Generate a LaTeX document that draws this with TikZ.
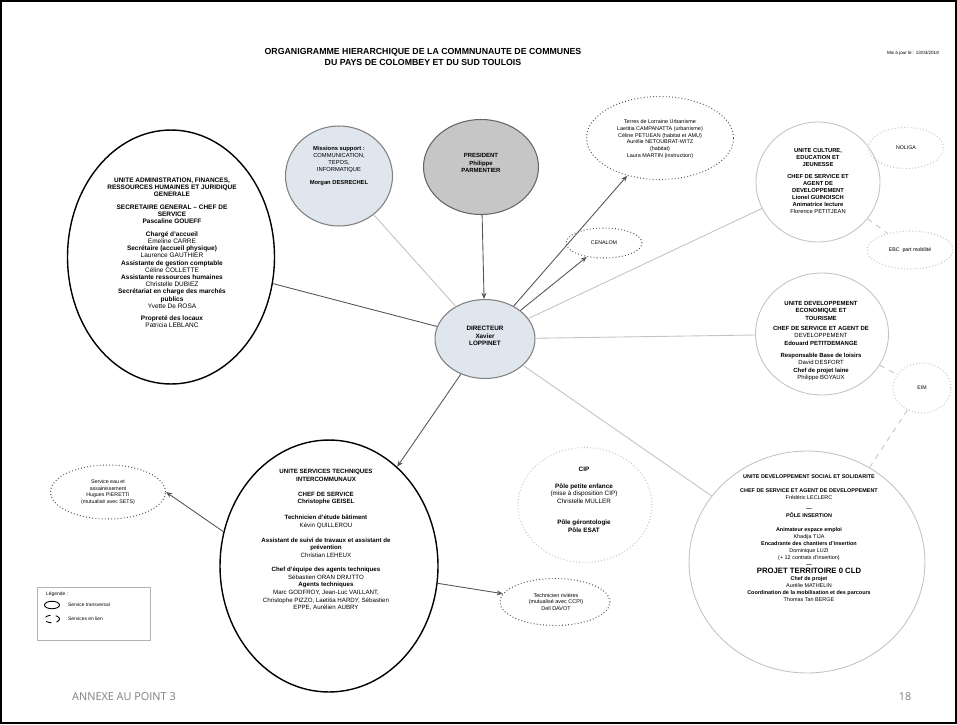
\documentclass[tikz,border=0pt]{standalone}
\usepackage{fontspec}
\setmainfont{Liberation Sans}
\newfontfamily\footfont{Open Sans}
\usetikzlibrary{arrows.meta,shapes.geometric,positioning,calc}
\definecolor{edgeDark}{RGB}{85,85,85}
\definecolor{edgeLight}{RGB}{195,195,195}
\definecolor{fillBlue}{RGB}{224,230,238}
\definecolor{fillGray}{RGB}{198,198,198}
\definecolor{footGray}{RGB}{125,125,125}

\tikzset{
  unit/.style={ellipse, draw=black, line width=0.8pt, inner sep=0pt},
  soft/.style={ellipse, draw=edgeLight, line width=0.5pt, inner sep=0pt},
  linked/.style={ellipse, draw=edgeDark, line width=0.6pt, dash pattern=on 0.5pt off 1.3pt, inner sep=0pt},
  linkedSoft/.style={ellipse, draw=edgeLight, line width=0.6pt, dash pattern=on 0.5pt off 1.3pt, inner sep=0pt},
  txt/.style={align=center, inner sep=0pt, font=\fontsize{3.3}{4}\selectfont},
  link/.style={draw=edgeDark, line width=0.5pt},
  linkSoft/.style={draw=edgeLight, line width=0.5pt},
  arrowLink/.style={link, -{Stealth[length=3.5pt,width=2.8pt]}},
}

\begin{document}
\begin{tikzpicture}[x=0.02cm, y=-0.02cm]
  \useasboundingbox (0,0) rectangle (957,724);
  % Page frame
  \draw[line width=0.8pt] (1,1) rectangle (956,723);

  % Title
  \node[font=\bfseries\fontsize{5}{6.3}\selectfont, align=center] (title) at (423,57)
    {ORGANIGRAMME HIERARCHIQUE DE LA COMMNUNAUTE DE COMMUNES\\DU PAYS DE COLOMBEY ET DU SUD TOULOIS};
  \node[font=\fontsize{2.6}{3}\selectfont, anchor=east] (update) at (945,53) {Mis à jour le : 13/03/2018};

  % Central nodes
  \node[ellipse, draw=gray, line width=0.6pt, fill=fillBlue, minimum width=2.14cm, minimum height=2.0cm] (missions) at (339,176) {};
  \node[txt] (missionsText) at (339,166) {\textbf{Missions support :}\\COMMUNICATION,\\TEPOS,\\INFORMATIQUE\\[3pt]\textbf{Morgan DESRECHEL}};

  \node[ellipse, draw=gray!80!black, line width=0.6pt, fill=fillGray, minimum width=2.3cm, minimum height=1.9cm] (pres) at (481,167) {};
  \node[txt, font=\bfseries\fontsize{3.4}{4.3}\selectfont] (presText) at (481,163) {PRESIDENT\\Philippe\\PARMENTIER};

  \node[ellipse, draw=gray, line width=0.6pt, fill=fillBlue, minimum width=2.0cm, minimum height=1.58cm] (dir) at (485,339) {};
  \node[txt, font=\bfseries\fontsize{3.6}{4.4}\selectfont] (dirText) at (485,336) {DIRECTEUR\\Xavier\\LOPPINET};

  % Left unit
  \node[unit, minimum width=4.14cm, minimum height=5.08cm] (admin) at (171,257) {};
  \node[txt, font=\fontsize{3.7}{4.1}\selectfont] (adminText) at (172,253) {\textbf{UNITE ADMINISTRATION, FINANCES,}\\\textbf{RESSOURCES HUMAINES ET JURIDIQUE}\\\textbf{GENERALE}\\[3pt]
    \textbf{SECRETAIRE GENERAL -- CHEF DE}\\\textbf{SERVICE}\\\textbf{Pascaline GOUEFF}\\[3pt]
    \textbf{Chargé d'accueil}\\Emeline CARRE\\\textbf{Secrétaire (accueil physique)}\\Laurence GAUTHIER\\
    \textbf{Assistante de gestion comptable}\\Céline COLLETTE\\\textbf{Assistante ressources humaines}\\Christelle DUBIEZ\\
    \textbf{Secrétariat en charge des marchés}\\\textbf{publics}\\Yvette De ROSA\\[3pt]
    \textbf{Propreté des locaux}\\Patricia LEBLANC};

  % Upper right
  \node[linked, minimum width=2.94cm, minimum height=1.66cm] (terres) at (660,138) {};
  \node[txt, font=\fontsize{3.1}{3.8}\selectfont] (terresText) at (660,139) {Terres de Lorraine Urbanisme\\Laetitia CAMPANATTA (urbanisme)\\Céline PETUEAN (habitat et AMU)\\Aurélie NETOUBRAT-WITZ\\(habitat)\\Laura MARTIN (instruction)};

  \node[linked, minimum width=1.52cm, minimum height=0.6cm] (cenalom) at (604,243) {};
  \node[txt, font=\fontsize{3}{3.7}\selectfont] (cenalomText) at (604,243) {CENALOM};

  \node[soft, minimum width=2.48cm, minimum height=2.4cm] (culture) at (818,182) {};
  \node[txt] (cultureText) at (818,181) {\textbf{UNITE CULTURE,}\\\textbf{EDUCATION ET}\\\textbf{JEUNESSE}\\[3pt]
    \textbf{CHEF DE SERVICE ET}\\\textbf{AGENT DE}\\\textbf{DEVELOPPEMENT}\\\textbf{Lionel GUINOISCH}\\\textbf{Animatrice lecture}\\Florence PETITJEAN};

  \node[linkedSoft, minimum width=1.5cm, minimum height=0.82cm] (noliga) at (906,148) {};
  \node[txt, font=\fontsize{3}{3.7}\selectfont] (noligaText) at (906,148) {NOLIGA};

  \node[linkedSoft, minimum width=1.72cm, minimum height=0.76cm] (ebc) at (910,250) {};
  \node[txt, font=\fontsize{3}{3.7}\selectfont] (ebcText) at (910,250) {EBC \ part mobilité};

  \node[soft, minimum width=2.66cm, minimum height=2.44cm] (devEco) at (822,334) {};
  \node[txt, font=\fontsize{3.4}{4.1}\selectfont] (devEcoText) at (821,341) {\textbf{UNITE DEVELOPPEMENT}\\\textbf{ECONOMIQUE ET}\\\textbf{TOURISME}\\[2pt]
    \textbf{CHEF DE SERVICE ET AGENT DE}\\DEVELOPPEMENT\\\textbf{Edouard PETITDEMANGE}\\[3pt]
    \textbf{Responsable Base de loisirs}\\David DESFORT\\\textbf{Chef de projet laine}\\Philippe BOYAUX};

  \node[linkedSoft, minimum width=1.16cm, minimum height=1.0cm] (eim) at (922,388) {};
  \node[txt, font=\fontsize{3}{3.7}\selectfont] (eimText) at (922,388) {EIM};

  % Lower left
  \node[unit, minimum width=4.36cm, minimum height=5.04cm] (serv) at (329,566) {};
  \node[txt, font=\fontsize{3.5}{4.3}\selectfont] (servText) at (326,540) {\textbf{UNITE SERVICES TECHNIQUES}\\\textbf{INTERCOMMUNAUX}\\[4pt]
    \textbf{CHEF DE SERVICE}\\\textbf{Christophe GEISEL}\\[5pt]
    \textbf{Technicien d'étude bâtiment}\\Kévin QUILLEROU\\[4pt]
    \textbf{Assistant de suivi de travaux et assistant de}\\\textbf{prévention}\\Christian LEHEUX\\[4pt]
    \textbf{Chef d'équipe des agents techniques}\\Sébastien ORAN DRIUTTO\\\textbf{Agents techniques}\\
    Marc GODFROY, Jean-Luc VAILLANT,\\Christophe PIZZO, Laetitia HARDY, Sébastien\\EPPE, Aurélien AUBRY};

  \node[linked, minimum width=2.3cm, minimum height=1.08cm] (eau) at (108,492) {};
  \node[txt, font=\fontsize{3}{3.7}\selectfont] (eauText) at (108,492) {Service eau et\\assainissement\\Hugues PIERETTI\\(mutualisé avec SETS)};

  \node[linked, minimum width=2.2cm, minimum height=0.94cm] (tech) at (555,602) {};
  \node[txt, font=\fontsize{3.1}{3.8}\selectfont] (techText) at (556,602) {Technicien rivières\\(mutualisé avec CCPI)\\Dell DAVOT};

  % Lower right
  \node[linkedSoft, minimum width=2.68cm, minimum height=2.3cm] (cip) at (585,505) {};
  \node[txt, font=\fontsize{3.6}{4.3}\selectfont] (cipText) at (584,500) {\textbf{CIP}\\[5pt]\textbf{Pôle petite enfance}\\(mise à disposition CIP)\\Christelle MULLER\\[8pt]\textbf{Pôle gérontologie}\\\textbf{Pôle ESAT}};

  \node[soft, minimum width=4.72cm, minimum height=4.44cm] (social) at (807,562) {};
  \node[txt, font=\fontsize{3.1}{4}\selectfont] (socialText) at (809,538) {\textbf{UNITE DEVELOPPEMENT SOCIAL ET SOLIDARITE}\\[4pt]
    \textbf{CHEF DE SERVICE ET AGENT DE DEVELOPPEMENT}\\Frédéric LECLERC\\[2pt]
    \textbf{---}\\\textbf{PÔLE INSERTION}\\[4pt]
    \textbf{Animateur espace emploi}\\Khadija TIJA\\\textbf{Encadrante des chantiers d'insertion}\\Dominique LUZI\\(+ 12 contrats d'insertion)\\\textbf{---}\\
    {\bfseries\fontsize{4.4}{5}\selectfont PROJET TERRITOIRE 0 CLD}\\\textbf{Chef de projet}\\Aurélie MATHELIN\\
    \textbf{Coordination de la mobilisation et des parcours}\\Thomas Tan BERGE};

  % Connectors
  \draw[arrowLink] (pres) -- (dir);
  \draw[linkSoft] (dir) -- (missions);
  \draw[link] (dir) -- (admin);
  \draw[arrowLink] (dir) -- (terres);
  \draw[arrowLink] (dir) -- (cenalom);
  \draw[linkSoft] (dir) -- (culture);
  \draw[linkSoft] (dir) -- (devEco);
  \draw[linkSoft] (dir) -- (social);
  \draw[arrowLink] (dir) -- (serv);
  \draw[arrowLink] (serv.162) -- (eau.east);
  \draw[arrowLink] (serv) -- (tech);
  \draw[linkSoft, dashed] (culture) -- (noliga);
  \draw[linkSoft, dashed] (culture) -- (ebc);
  \draw[linkSoft, dashed] (devEco) -- (eim);
  \draw[linkSoft, dashed] (social) -- (eim);

  % Legend
  \draw[draw=gray!60, line width=0.4pt] (37,587) rectangle (150,640);
  \node[font=\fontsize{2.8}{3.2}\selectfont, anchor=west] (legTitle) at (40,594) {Légende :};
  \node[ellipse, draw=black, line width=0.5pt, minimum width=0.3cm, minimum height=0.15cm, inner sep=0pt] (legSolid) at (52,605) {};
  \node[font=\fontsize{2.8}{3.2}\selectfont, anchor=west] (legSolidText) at (62,605) {Service transversal};
  \node[ellipse, draw=black, line width=0.5pt, dashed, minimum width=0.3cm, minimum height=0.15cm, inner sep=0pt] (legDash) at (52,619) {};
  \node[font=\fontsize{2.8}{3.2}\selectfont, anchor=west] (legDashText) at (62,619) {Services en lien};

  % Footer
  \node[font=\footfont\fontsize{6.2}{7}\selectfont, text=footGray, anchor=west] (annexe) at (66,697) {ANNEXE AU POINT 3};
  \node[font=\footfont\fontsize{6.2}{7}\selectfont, text=footGray] (pageNum) at (905,697) {18};
\end{tikzpicture}
\end{document}
